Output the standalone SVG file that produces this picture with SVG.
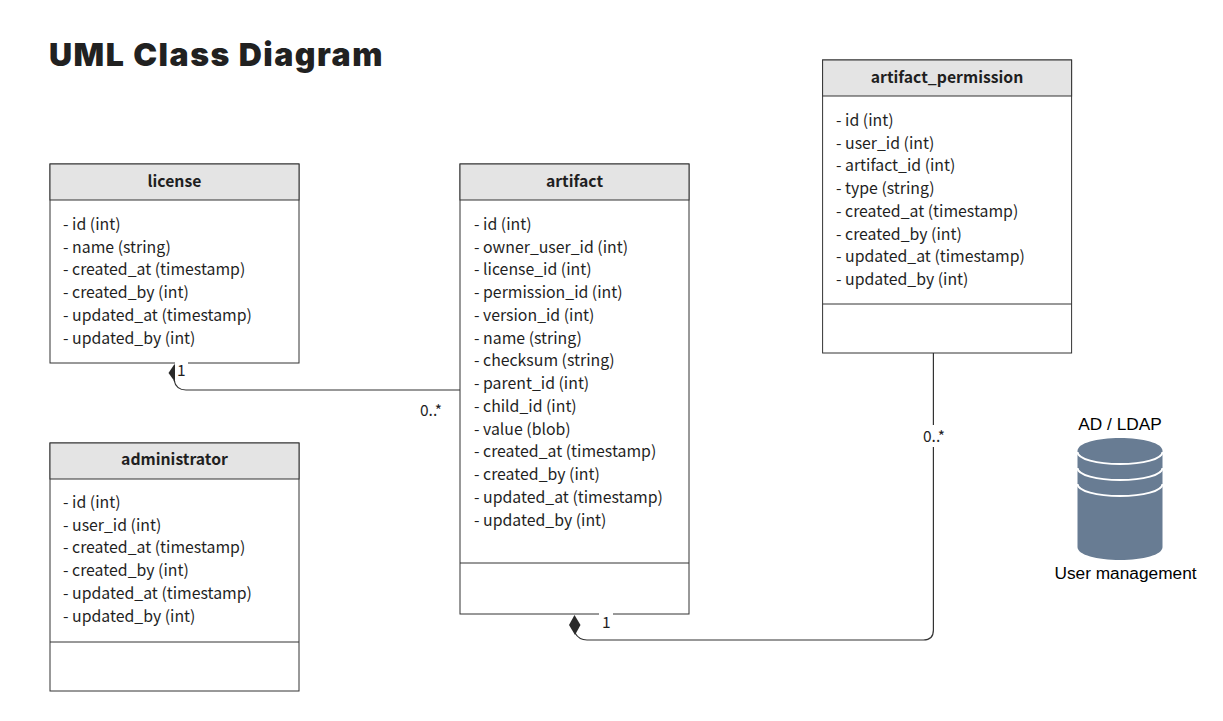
<svg xmlns="http://www.w3.org/2000/svg" width="1223" height="721" viewBox="0 0 1223 721">
<style>
text{font-family:"Noto Sans CJK SC","Noto Sans",sans-serif;font-size:15.85px;fill:#1f1f1f}
.t{font-family:Inter,"Open Sans",sans-serif;font-weight:900;font-size:32px;letter-spacing:1.5px;fill:#212121}
.h{font-weight:700;font-size:15.75px;text-anchor:middle}
.a{font-family:"Liberation Sans",Arial,sans-serif;font-size:17.3px;fill:#000;text-anchor:middle}
.m{font-size:15.5px}
.b{fill:#fff;stroke:#333;stroke-width:1}
.hd{fill:#e4e4e4;stroke:#333;stroke-width:1}
.l{fill:none;stroke:#333;stroke-width:1}
.c{fill:none;stroke:#333;stroke-width:1.2}
.gap{fill:#fff;stroke:none}
</style>
<rect width="1223" height="721" fill="#fff"/>
<text class="t" x="49" y="66">UML Class Diagram</text>
<g id="license">
<rect class="b" x="50" y="164" width="249" height="199"/><rect class="hd" x="50" y="164" width="249" height="36"/>
<text class="h" x="174.500" y="187">license</text>
<text x="63" y="230">- id (int)</text><text x="63" y="253">- name (string)</text><text x="63" y="275">- created_at (timestamp)</text><text x="63" y="298">- created_by (int)</text><text x="63" y="321">- updated_at (timestamp)</text><text x="63" y="344">- updated_by (int)</text>
</g>
<g id="administrator">
<rect class="b" x="50" y="443" width="249" height="248"/><rect class="hd" x="50" y="443" width="249" height="36"/><path class="l" d="M50 642H299"/>
<text class="h" x="174.500" y="465">administrator</text>
<text x="63" y="508">- id (int)</text><text x="63" y="531">- user_id (int)</text><text x="63" y="553">- created_at (timestamp)</text><text x="63" y="576">- created_by (int)</text><text x="63" y="599">- updated_at (timestamp)</text><text x="63" y="622">- updated_by (int)</text>
</g>
<g id="artifact">
<rect class="b" x="460" y="164" width="229" height="450"/><rect class="hd" x="460" y="164" width="229" height="36"/><path class="l" d="M460 563H689"/>
<text class="h" x="574.500" y="187">artifact</text>
<text x="474" y="230">- id (int)</text><text x="474" y="253">- owner_user_id (int)</text><text x="474" y="275">- license_id (int)</text><text x="474" y="298">- permission_id (int)</text><text x="474" y="321">- version_id (int)</text><text x="474" y="344">- name (string)</text><text x="474" y="366">- checksum (string)</text><text x="474" y="389">- parent_id (int)</text><text x="474" y="412">- child_id (int)</text><text x="474" y="435">- value (blob)</text><text x="474" y="457">- created_at (timestamp)</text><text x="474" y="480">- created_by (int)</text><text x="474" y="503">- updated_at (timestamp)</text><text x="474" y="526">- updated_by (int)</text>
</g>
<g id="artifact_permission">
<rect class="b" x="822.600" y="60" width="249" height="293"/><rect class="hd" x="822.600" y="60" width="249" height="36"/><path class="l" d="M822.600 304H1071.600"/>
<text class="h" x="947" y="83">artifact_permission</text>
<text x="836" y="126">- id (int)</text><text x="836" y="149">- user_id (int)</text><text x="836" y="171">- artifact_id (int)</text><text x="836" y="194">- type (string)</text><text x="836" y="217">- created_at (timestamp)</text><text x="836" y="240">- created_by (int)</text><text x="836" y="262">- updated_at (timestamp)</text><text x="836" y="285">- updated_by (int)</text>
</g>
<g id="ad_ldap">
<text class="a" x="1120" y="430">AD / LDAP</text>
<path d="M1077.500 451C1077.500 443 1097 438 1120 438S1162.500 443 1162.500 451V547C1162.500 555 1143 560 1120 560S1077.500 555 1077.500 547Z" fill="#687c93"/>
<path d="M1077.500 452C1077.500 459 1097 464 1120 464S1162.500 459 1162.500 452M1077.500 468C1077.500 475 1097 480 1120 480S1162.500 475 1162.500 468M1077.500 484C1077.500 491 1097 496 1120 496S1162.500 491 1162.500 484" fill="none" stroke="#fff" stroke-width="2"/>
<text class="a" x="1125.500" y="579">User management</text>
</g>
<g id="connectors">
<path class="c" d="M460 390H186Q176 390 174 380"/>
<path d="M174.500 364L178 372.500L175 382L168.500 373Z" fill="#2a2a2a"/>
<rect class="gap" x="175" y="362" width="13" height="19"/>
<text class="m" x="177" y="376">1</text>
<text class="m" x="420" y="416">0..*</text>
<path class="c" d="M933.400 353V630Q933.400 640 923.400 640H587Q579 640 575 633"/>
<path d="M574.500 615L580.500 625L575 635L569 625Z" fill="#2a2a2a"/>
<rect class="gap" x="599" y="612" width="14" height="4"/>
<text class="m" x="602" y="627.500">1</text>
<rect class="gap" x="925" y="425" width="18" height="22"/>
<text class="m" x="923" y="442">0..*</text>
</g>
</svg>
